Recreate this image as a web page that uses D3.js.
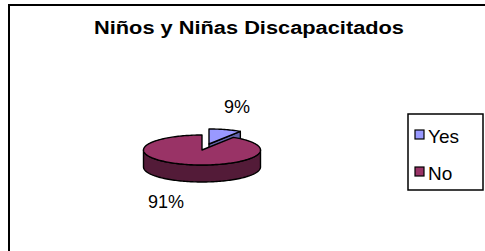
<!DOCTYPE html>
<html><head><meta charset="utf-8">
<script src="https://cdn.jsdelivr.net/npm/d3@7"></script>
<style>body{margin:0;background:#fff}svg{display:block}text{font-family:"Liberation Sans",Arial,sans-serif}</style>
</head><body><svg id="c" width="485" height="251"></svg>
<script>
const categories = ["Yes", "No"];
const values = [9, 91];
const labels = ["9%", "91%"];
const title = "Niños y Niñas Discapacitados";

const topColors = ["#9999FF", "#993366"];
const sideColors = ["#6262a8", "#531b38"];

const svg = d3.select("#c");
svg.append("rect").attr("x", 9).attr("y", 5).attr("width", 490).attr("height", 260)
  .attr("fill", "#fff").attr("stroke", "#000").attr("stroke-width", 2);

svg.append("text").attr("x", 249).attr("y", 34).attr("text-anchor", "middle")
  .attr("font-size", 18).attr("font-weight", "bold").attr("textLength", 310)
  .attr("lengthAdjust", "spacingAndGlyphs").text(title);

// pie geometry
const cx = 202, cy = 150, rx = 58.5, ry = 15, depth = 17;
const explode = [[7, -6], [0, 0]];
const arcs = d3.pie().sort(null).startAngle(0).endAngle(2 * Math.PI)(values);

const P = (a, ox, oy, dz) => [cx + ox + rx * Math.sin(a), cy + oy - ry * Math.cos(a) + (dz || 0)];
const line = d3.line();
function arcPts(a0, a1, ox, oy, dz) {
  const n = Math.max(2, Math.ceil(Math.abs(a1 - a0) / 0.03));
  const pts = [];
  for (let i = 0; i <= n; i++) pts.push(P(a0 + (a1 - a0) * i / n, ox, oy, dz));
  return pts;
}
const g = svg.append("g").attr("stroke", "#000").attr("stroke-width", 1.4).attr("stroke-linejoin", "round");

[0, 1].forEach(i => {
  const a = arcs[i];
  const [ox, oy] = explode[i];
  const c = [cx + ox, cy + oy];
  const cb = [cx + ox, cy + oy + depth];
  [[a.startAngle, -1], [a.endAngle, 1]].forEach(([ang, s]) => {
    const nrm = ang + s * Math.PI / 2;
    if (-Math.cos(nrm) > 0.01) {
      const p = P(ang, ox, oy), pb = P(ang, ox, oy, depth);
      g.append("path").attr("d", line([c, p, pb, cb]) + "Z").attr("fill", sideColors[i]);
    }
  });
  const b0 = Math.max(a.startAngle, Math.PI / 2), b1 = Math.min(a.endAngle, 3 * Math.PI / 2);
  if (b1 > b0) {
    const top = arcPts(b0, b1, ox, oy, 0), bot = arcPts(b1, b0, ox, oy, depth);
    g.append("path").attr("d", line(top.concat(bot)) + "Z").attr("fill", sideColors[i]);
  }
  const tp = [c].concat(arcPts(a.startAngle, a.endAngle, ox, oy, 0));
  g.append("path").attr("d", line(tp) + "Z").attr("fill", topColors[i]);
});

const labelPos = [[237, 113], [166, 208]];
labels.forEach((t, i) => {
  svg.append("text").attr("x", labelPos[i][0]).attr("y", labelPos[i][1])
    .attr("text-anchor", "middle").attr("font-size", 18).text(t);
});

svg.append("rect").attr("x", 408).attr("y", 114).attr("width", 75).attr("height", 76)
  .attr("fill", "#fff").attr("stroke", "#000").attr("stroke-width", 1.5);
categories.forEach((cat, i) => {
  const y = 130 + i * 37;
  svg.append("rect").attr("x", 415).attr("y", y).attr("width", 9).attr("height", 9)
    .attr("fill", topColors[i]).attr("stroke", "#000").attr("stroke-width", 1.2);
  svg.append("text").attr("x", 428).attr("y", y + 13).attr("font-size", 19).text(cat);
});
</script></body></html>
